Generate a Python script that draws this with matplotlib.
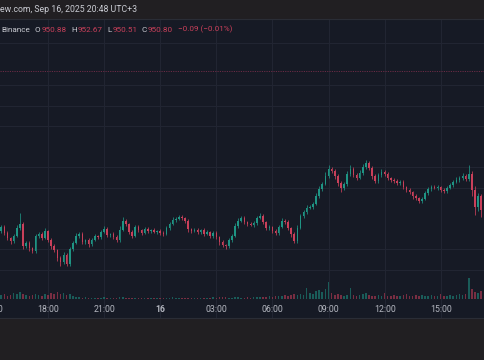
import pandas as pd
import matplotlib
matplotlib.use("Agg")
import matplotlib.pyplot as plt

# 10-minute BNB/USDT candles (close prices)
closes = [
    945.30, 943.80, 942.55, 941.80, 943.05, 945.05, 946.05, 940.55, 941.30, 940.05, 939.30, 943.05,
    943.55, 942.55, 944.30, 942.05, 940.55, 939.55, 937.55, 936.55, 938.30, 936.05, 939.80, 941.30,
    943.05, 943.55, 941.55, 942.05, 941.05, 942.05, 943.05, 942.80, 944.05, 944.80, 943.30, 943.55,
    942.80, 942.05, 944.55, 946.80, 946.05, 944.05, 943.05, 945.30, 944.55, 943.80, 944.80, 944.30,
    944.55, 944.05, 944.30, 943.80, 943.55, 945.05, 946.05, 947.05, 947.30, 947.80, 947.55, 946.80,
    944.80, 944.30, 944.55, 944.05, 944.55, 943.55, 944.05, 943.05, 943.80, 942.80, 941.55, 940.80,
    940.55, 942.05, 943.05, 945.55, 946.80, 947.55, 946.55, 946.05, 945.80, 946.30, 947.55, 948.05,
    946.55, 945.05, 945.30, 944.30, 943.80, 945.30, 946.80, 946.55, 945.05, 943.55, 941.80, 945.05,
    948.05, 949.05, 950.05, 950.30, 951.05, 953.05, 954.80, 956.05, 958.05, 959.80, 959.30, 958.05,
    956.30, 955.05, 956.05, 958.55, 959.80, 958.30, 957.55, 958.80, 960.30, 961.30, 960.05, 958.05,
    956.80, 958.30, 959.05, 958.55, 957.55, 957.05, 956.80, 956.30, 956.55, 955.30, 954.55, 954.05,
    953.05, 952.55, 951.80, 952.30, 953.80, 954.80, 955.30, 955.05, 955.30, 954.55, 954.30, 955.05,
    955.80, 956.55, 957.05, 957.55, 958.05, 957.30, 958.55, 954.55, 950.30, 953.05, 949.55, 951.30,
]
first_open = 944.30

wick_up = [
    0.5, 0.4, 0.6, 0.3, 0.5, 0.7, 2.8, 0.4, 0.6, 0.5, 0.3, 0.6,
    0.4, 0.5, 0.7, 0.3, 0.4, 0.5, 0.3, 0.6, 0.8, 0.4, 0.5, 0.6,
    0.7, 0.4, 0.5, 0.3, 0.4, 0.6, 0.5, 0.3, 0.6, 0.8, 0.4, 0.3,
    0.5, 0.4, 0.9, 1.0, 0.5, 0.3, 0.4, 0.6, 0.5, 0.3, 0.4, 0.5,
    0.3, 0.4, 0.3, 0.5, 0.4, 0.6, 0.5, 0.7, 0.4, 0.6, 0.5, 0.3,
    0.4, 0.3, 0.5, 0.4, 0.3, 0.5, 0.4, 0.3, 0.5, 0.4, 0.3, 0.4,
    0.3, 0.5, 0.6, 0.8, 0.7, 0.6, 0.4, 0.3, 0.5, 0.4, 0.6, 0.8,
    0.4, 0.3, 0.5, 0.3, 0.4, 0.6, 0.7, 0.5, 0.4, 0.3, 0.4, 0.8,
    0.6, 0.5, 0.7, 0.4, 0.6, 0.8, 0.7, 0.6, 0.9, 1.0, 0.6, 0.4,
    0.5, 0.4, 0.6, 0.8, 0.9, 0.5, 0.4, 0.7, 0.8, 0.8, 0.6, 0.4,
    0.5, 0.6, 0.7, 0.5, 0.4, 0.3, 0.5, 0.4, 0.6, 0.4, 0.3, 0.4,
    0.3, 0.4, 0.3, 0.5, 0.6, 0.5, 0.4, 0.5, 0.4, 0.3, 0.4, 0.5,
    0.6, 0.5, 0.7, 0.6, 0.8, 0.6, 2.3, 0.7, 0.9, 0.8, 0.6, 0.7,
]
wick_dn = [
    0.4, 0.6, 0.5, 0.8, 0.4, 0.3, 0.5, 0.7, 0.6, 0.8, 0.6, 0.5,
    0.4, 0.6, 0.3, 0.5, 0.7, 0.6, 0.8, 0.9, 0.5, 0.4, 0.6, 0.4,
    0.3, 0.5, 0.4, 0.6, 0.7, 0.4, 0.3, 0.5, 0.4, 0.3, 0.6, 0.4,
    0.5, 0.6, 0.4, 0.3, 0.5, 0.6, 0.5, 0.3, 0.4, 0.5, 0.3, 0.4,
    0.4, 0.3, 0.5, 0.4, 0.6, 0.3, 0.4, 0.3, 0.5, 0.3, 0.4, 0.5,
    0.7, 0.4, 0.3, 0.5, 0.4, 0.6, 0.3, 0.5, 0.4, 0.6, 0.7, 0.6,
    0.8, 0.5, 0.4, 0.3, 0.4, 0.3, 0.5, 0.4, 0.3, 0.5, 0.4, 0.3,
    0.5, 0.6, 0.4, 0.5, 0.6, 0.4, 0.3, 0.5, 0.6, 0.7, 0.5, 0.4,
    0.3, 0.4, 0.5, 0.3, 0.4, 0.3, 0.5, 0.4, 0.3, 0.5, 0.6, 0.7,
    0.8, 0.9, 0.5, 0.4, 0.6, 0.5, 0.4, 0.3, 0.4, 0.6, 0.5, 0.7,
    0.6, 0.5, 0.4, 0.5, 0.6, 0.4, 0.5, 0.4, 0.6, 0.5, 0.6, 0.5,
    0.7, 0.5, 0.6, 0.4, 0.3, 0.5, 0.4, 0.3, 0.5, 0.4, 0.5, 0.4,
    0.3, 0.4, 0.3, 0.5, 0.4, 0.6, 0.4, 1.5, 2.0, 1.0, 1.8, 0.9,
]
volumes = [
    4, 5, 3, 4, 6, 5, 7, 5, 4, 3, 4, 5, 4, 3, 5, 4, 6, 5, 7, 5, 6, 4, 5,
    3, 2, 2, 1.5, 2, 1.5, 1, 1.5, 1, 1.5, 2, 1.5, 1,
    1.5, 1, 2, 2.5, 1.5, 1, 1.5, 1, 1, 1.5, 1, 1,
    1, 1.5, 1, 1, 1.5, 1, 1.5, 2, 1, 1.5, 1, 1,
    1.5, 1, 1, 1.5, 1, 1, 1.5, 1, 2, 1.5, 2, 2.5,
    2, 1.5, 1.5, 2, 2, 1.5, 1.5, 2, 1.5, 2, 2.5, 2,
    2, 2.5, 3, 2, 3, 3.5, 3, 4, 3, 4, 5, 4,
    5, 4, 11, 6, 5, 8, 9, 7, 10, 17, 6, 4,
    5, 4, 3, 4, 11, 4, 3, 4, 5, 6, 4, 3,
    3, 4, 3, 6, 3, 3, 4, 3, 3, 4, 5, 3,
    3, 4, 3, 4, 3, 3, 4, 3, 3, 5, 3, 3,
    4, 3, 4, 5, 4, 5, 21, 10, 7, 6, 8, 5,
]

time_labels = ["15:00", "18:00", "21:00", "16", "03:00", "06:00", "09:00", "12:00", "15:00"]
label_hours = [15, 18, 21, 24, 27, 30, 33, 36, 39]
grid_prices = [991.30, 980.80, 975.55, 970.55, 960.30, 955.05, 939.80, 934.55]
marker_price = 984.30

times = pd.date_range("2025-09-15 15:30", periods=len(closes), freq="10min")
hours = (times - pd.Timestamp("2025-09-15")) / pd.Timedelta(hours=1)

df = pd.DataFrame({"t": hours, "close": closes, "up": wick_up, "dn": wick_dn, "vol": volumes})
df["open"] = [first_open] + closes[:-1]
df["high"] = df[["open", "close"]].max(axis=1) + df["up"]
df["low"] = df[["open", "close"]].min(axis=1) - df["dn"]
df["rising"] = df["close"] >= df["open"]

GREEN = "#1f9484"
RED = "#c9405a"
BG = "#161a25"
GRID = "#222633"
TEXT = "#c9cbd2"

plt.rcParams["font.family"] = ["Roboto", "DejaVu Sans"]

fig = plt.figure(figsize=(4.85, 3.6), dpi=100, facecolor="#211f22")
ax = fig.add_axes([0, 42 / 360, 1, 299 / 360], facecolor=BG)
ax.set_xlim(15.433, 41.369)
ax.set_ylim(922.55, 997.3)
for s in ["left", "right"]:
    ax.spines[s].set_visible(False)
for s in ["top", "bottom"]:
    ax.spines[s].set_color("#2a2d36")
    ax.spines[s].set_linewidth(0.8)
ax.set_xticks([])
ax.set_yticks([])

for h in label_hours:
    ax.axvline(h, color=GRID, lw=0.7, zorder=0)
for p in grid_prices:
    ax.axhline(p, color=GRID, lw=0.7, zorder=0)
ax.axhline(marker_price, color="#6a2c45", lw=0.7, ls=(0, (1.2, 1.2)), zorder=1)

colors = [GREEN if r else RED for r in df["rising"]]
w = 1 / 6 * 0.5
ax.vlines(df["t"], df["low"], df["high"], colors=colors, lw=0.55, zorder=3)
ax.bar(df["t"], (df["close"] - df["open"]).abs().clip(lower=0.15),
       bottom=df[["open", "close"]].min(axis=1), width=w, color=colors, lw=0, zorder=4)

vax = ax.twinx()
vax.set_ylim(-19, 280)
vax.set_yticks([])
vax.axis("off")
vax.bar(df["t"], df["vol"], width=w, color=colors, alpha=0.55, lw=0)

for h, lab in zip(label_hours, time_labels):
    ax.text(h, 0.027, lab, transform=ax.get_xaxis_transform(), ha="center", va="center",
            fontsize=6.3, color="#b4b7c0", fontweight="bold" if lab == "16" else "normal")

# top bar with date
fig.text(0.0, 1 - 10 / 360, "ew.com, Sep 16, 2025 20:48 UTC+3", fontsize=6.3, color=TEXT,
         ha="left", va="center")

# legend line, laid out left to right: (gap before in px, text, colour)
legend = [
    (1, "Binance", TEXT), (5, "O", TEXT), (1, "950.88", RED), (4.5, "H", TEXT),
    (1, "952.67", RED), (4.5, "L", TEXT), (1, "950.51", RED), (4.5, "C", TEXT),
    (1, "950.80", RED), (4.5, "\u22120.09 (\u22120.01%)", RED),
]
renderer = fig.canvas.get_renderer()
x = 0
for gap, txt, col in legend:
    x += gap
    t = fig.text(x / 485, 1 - 29.5 / 360, txt, fontsize=5.9, color=col, ha="left", va="center")
    x += t.get_window_extent(renderer).width

fig.savefig("out.png", dpi=100, facecolor=fig.get_facecolor())
